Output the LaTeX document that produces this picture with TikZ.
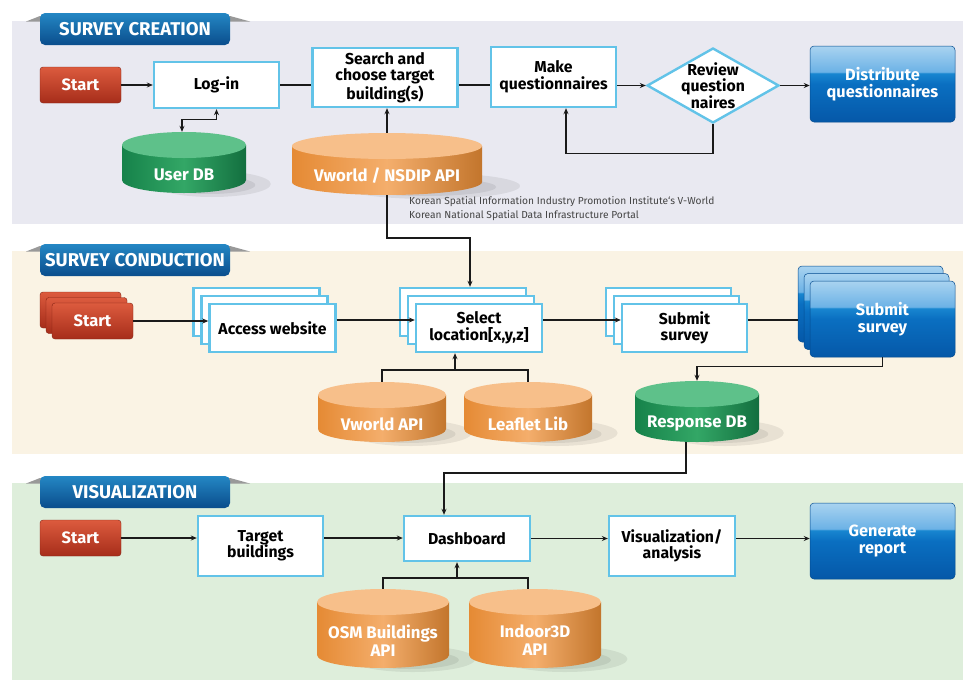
\documentclass[tikz,border=0pt]{standalone}
\usepackage{fontspec}
\setmainfont{Fira Sans}
\usetikzlibrary{shapes.geometric,arrows.meta,calc}

\definecolor{boxblue}{HTML}{62C3E8}
\definecolor{arrc}{HTML}{1A1A1A}
\definecolor{redt}{HTML}{DC5B3E}
\definecolor{redb}{HTML}{A62D1A}
\definecolor{gbh1}{HTML}{A9D3F0}
\definecolor{gbh2}{HTML}{6CB2E6}
\definecolor{gb1}{HTML}{1886D0}
\definecolor{gb2}{HTML}{0A6FC1}
\definecolor{gb3}{HTML}{0558A8}
\definecolor{tabt}{HTML}{2487C4}
\definecolor{tabb}{HTML}{0A4D8C}
\definecolor{orgA}{HTML}{E58A34}
\definecolor{orgB}{HTML}{F4AE6C}
\definecolor{orgT}{HTML}{F7BF8A}
\definecolor{grnA}{HTML}{16824A}
\definecolor{grnB}{HTML}{33A766}
\definecolor{grnT}{HTML}{5EC18A}
\definecolor{pone}{HTML}{E9E9F1}
\definecolor{ptwo}{HTML}{FAF3E4}
\definecolor{pthree}{HTML}{DEEEDB}
\definecolor{footc}{HTML}{444444}

\pgfdeclareverticalshading{glossblue}{100bp}{color(0bp)=(gb3); color(25bp)=(gb3); color(50bp)=(gb2); color(57bp)=(gb1); color(58bp)=(gbh2); color(75bp)=(gbh1); color(100bp)=(gbh1)}

\newcommand\lblfont{\bfseries\fontsize{15.8}{16.5}\selectfont}

% cylinder: name, cx, top, bottom, rx, colour prefix, label
\newcommand\dbcyl[7]{%
  \fill[black,opacity=0.07] ({#2+0.45*#5},{#4-9}) ellipse [x radius={0.95*#5}, y radius=13];
  \fill[black,opacity=0.07] ({#2+0.40*#5},{#4-8}) ellipse [x radius={0.75*#5}, y radius=9];
  \shade[left color=#6A, right color=#6A!85!black, middle color=#6B]
    ({#2-#5},{#3+13}) -- ({#2-#5},{#4-13})
    arc[start angle=180, end angle=0, x radius=#5, y radius=13]
    -- ({#2+#5},{#3+13}) -- cycle;
  \fill[#6T] (#2,{#3+13}) ellipse [x radius=#5, y radius=13];
  \node[inner sep=0pt, minimum width={(2*#5)*1pt}, minimum height={(#4-#3)*1pt},
        label={[dblabel, yshift=-12pt]center:#7}] (#1) at (#2,{(#3+#4)/2}) {};
}

\begin{document}
\begin{tikzpicture}[x=1pt, y=-1pt,
  >={Stealth[length=6pt,width=5pt]},
  box/.style={draw=boxblue, line width=2.4pt, fill=white, font=\lblfont, align=center, inner sep=2pt},
  startbox/.style={rounded corners=3pt, top color=redt, bottom color=redb, draw=redb!80!black, line width=0.4pt,
     text=white, font=\bfseries\fontsize{16.5}{17}\selectfont, minimum width=81pt, minimum height=36pt, inner sep=0pt},
  bluebox/.style={rounded corners=4pt, shade, shading=glossblue, draw=gb3!85!black, line width=0.5pt,
     text=white, font=\bfseries\fontsize{16.3}{17}\selectfont, align=center, minimum width=145pt, minimum height=76pt, inner sep=0pt},
  tab/.style={rounded corners=5pt, top color=tabt, bottom color=tabb, text=white,
     font=\bfseries\fontsize{18.5}{19}\selectfont, minimum width=190pt, minimum height=32pt, inner sep=0pt},
  dblabel/.style={text=white, font=\bfseries\fontsize{16.8}{18}\selectfont, align=center},
  foot/.style={text=footc, font=\fontsize{10.2}{14}\selectfont, align=left, inner sep=0pt},
  arr/.style={draw=arrc, line width=1.2pt, ->},
  ln/.style={draw=arrc, line width=1.2pt}
]
\useasboundingbox (0,0) rectangle (965,680);
\fill[white] (0,0) rectangle (965,680);

% panels
\fill[pone] (12,21) rectangle (963,224);
\fill[ptwo] (12,251) rectangle (963,454);
\fill[pthree] (12,483) rectangle (963,680);

% tab ears
\fill[black!40] (26,21.5) -- (40,16) -- (230,16) -- (250,21.5) -- cycle;
\fill[black!40] (26,251.5) -- (40,246) -- (230,246) -- (250,251.5) -- cycle;
\fill[black!40] (26,483.5) -- (40,478) -- (230,478) -- (250,483.5) -- cycle;
\node[tab] (t1) at (135,29) {SURVEY CREATION};
\node[tab] (t2) at (135,260) {SURVEY CONDUCTION};
\node[tab] (t3) at (135,492) {VISUALIZATION};

% ---------- panel 1 ----------
\node[startbox] (s1) at (80.5,85) {Start};
\node[box, minimum width=125pt, minimum height=46pt] (login) at (216.5,85) {Log-in};
\node[box, minimum width=145pt, minimum height=59pt] (srch) at (385,77.5) {Search and\\choose target\\building(s)};
\node[box, minimum width=125pt, minimum height=60pt] (mk) at (553.5,77) {Make\\questionnaires};
\node[box, shape=diamond, aspect=1.74, minimum width=132pt, minimum height=75pt, inner sep=0pt,
      label={[font=\lblfont, align=center]center:Review\\question\\naires}] (rev) at (713,85.5) {};
\node[bluebox] (dist) at (882.5,84) {Distribute\\questionnaires};

\dbcyl{udb}{184}{132}{193}{62}{grn}{User DB}
\dbcyl{vn}{387}{133}{195}{95}{org}{Vworld / NSDIP API}

\node[foot, anchor=west] (fn) at (409,209) {Korean Spatial Information Industry Promotion Institute`s V-World\\Korean National Spatial Data Infrastructure Portal};

\draw[arr] (s1.east) -- (login.west);
\draw[ln] (login.east) -- (login.east -| srch.west);
\draw[ln] (srch.east |- login.east) -- (mk.west |- login.east);
\draw[arr] (mk.east |- rev.west) -- (rev.west);
\draw[arr] (rev.east) -- (rev.east -| dist.west);
\draw[arr] (rev.south) -- ++(0,29) -| ([xshift=12.5pt]mk.south);
\draw[ln, <->] ([xshift=-2pt]udb.north) -- ++(0,-12) -| (login.south);
\draw[arr] (vn.north) -- (vn.north |- srch.south);

% ---------- panel 2 ----------
\node[startbox] (s2c) at (80.5,310) {};
\node[startbox] (s2b) at (86.5,315.5) {};
\node[startbox] (s2) at (92.5,321) {Start};

\node[box, minimum width=126pt, minimum height=48pt] (acc3) at (256.5,312) {};
\node[box, minimum width=126pt, minimum height=48pt] (acc2) at (264.5,320) {};
\node[box, minimum width=126pt, minimum height=48pt] (acc) at (272.5,328) {Access website};

\node[box, minimum width=126pt, minimum height=48pt] (sel3) at (463,312) {};
\node[box, minimum width=126pt, minimum height=48pt] (sel2) at (471,320) {};
\node[box, minimum width=126pt, minimum height=48pt] (sel) at (479,328) {Select\\location[x,y,z]};

\node[box, minimum width=125pt, minimum height=48pt] (sub3) at (668.5,312) {};
\node[box, minimum width=125pt, minimum height=48pt] (sub2) at (676.5,320) {};
\node[box, minimum width=125pt, minimum height=48pt] (sub) at (684.5,328) {Submit\\survey};

\node[bluebox] (bl3) at (870.5,304) {};
\node[bluebox] (bl2) at (876.5,311.5) {};
\node[bluebox] (bl) at (882.5,319) {Submit\\survey};

\dbcyl{vwa}{382}{382}{442}{64}{org}{Vworld API}
\dbcyl{ll}{528}{382}{442}{64}{org}{Leaflet Lib}
\dbcyl{rdb}{697}{381}{442}{62}{grn}{Response DB}

\coordinate (c1) at (470,238);
\draw[arr] (vn.south) |- (c1) -- (c1 |- sel3.north);
\draw[arr] (s2.east) -- (s2.east -| acc.west);
\draw[arr] ([yshift=8pt]acc.east) -- ([yshift=8pt]acc.east -| sel.west);
\draw[arr] ([yshift=8pt]sel.east) -- ([yshift=8pt]sel.east -| sub.west);
\draw[ln] ([yshift=8pt]sub.east) -- ([yshift=8pt]sub.east -| bl3.west);
\draw[arr] (bl.south) -- ++(0,9) -| (rdb.north);
\coordinate (j1) at (455,370);
\draw[ln] (vwa.north) |- (j1) -| (ll.north);
\draw[arr] (j1) -- (j1 |- sel.south);

% ---------- panel 3 ----------
\node[startbox] (s3) at (80.5,538) {Start};
\node[box, minimum width=125pt, minimum height=60pt] (tgt) at (260.5,546) {Target\\buildings};
\node[box, minimum width=126pt, minimum height=45pt] (dash) at (467,538.5) {Dashboard};
\node[box, minimum width=126pt, minimum height=60pt] (vis) at (672,546) {Visualization/\\analysis};
\node[bluebox] (gen) at (882.5,541) {Generate\\report};

\dbcyl{osm}{383}{589}{668}{66}{org}{OSM Buildings\\API}
\dbcyl{ind}{535}{589}{668}{66}{org}{Indoor3D\\API}

\coordinate (c2) at (444,473);
\draw[arr] ([xshift=-11pt]rdb.south) |- (c2) -- (c2 |- dash.north);
\draw[arr] (s3.east) -- (s3.east -| tgt.west);
\draw[arr] ([yshift=8pt]tgt.east) -- ([yshift=8pt]tgt.east -| dash.west);
\draw[arr] (dash.east) -- (dash.east -| vis.west);
\draw[arr] (dash.east -| vis.east) -- (dash.east -| gen.west);
\coordinate (j2) at (457,578);
\draw[ln] (osm.north) |- (j2) -| ([xshift=-7pt]ind.north);
\draw[arr] (j2) -- (j2 |- dash.south);
\end{tikzpicture}
\end{document}
